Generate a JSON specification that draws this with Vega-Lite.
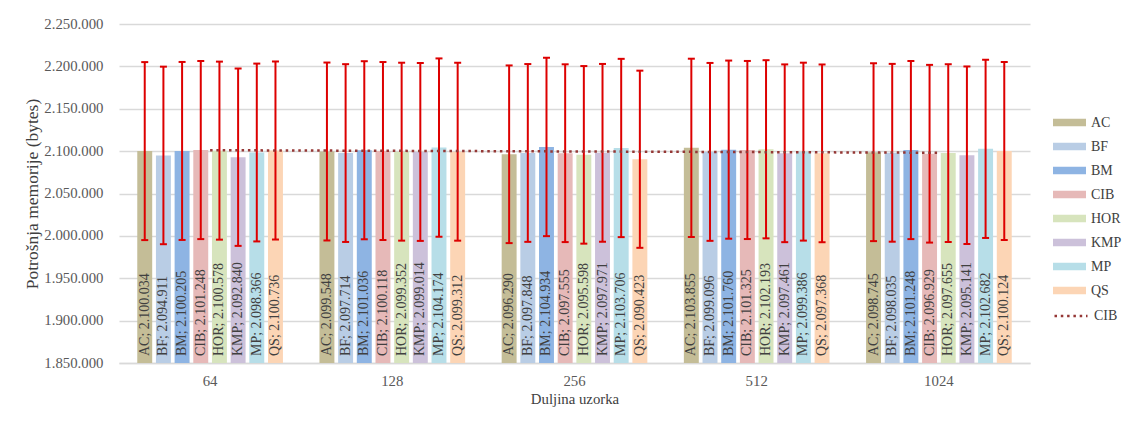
{
  "$schema": "https://vega.github.io/schema/vega-lite/v6.json",
  "width": 911,
  "height": 339,
  "autosize": "none",
  "padding": {"left": 119, "top": 24, "right": 93, "bottom": 60},
  "background": "white",
  "config": {
    "locale": {"number": {"decimal": ",", "thousands": ".", "grouping": [3], "currency": ["", ""]}},
    "font": "Liberation Serif",
    "view": {"stroke": null},
    "axis": {
      "labelFont": "Liberation Serif", "labelFontSize": 14.8, "labelColor": "#595959",
      "titleFont": "Liberation Serif", "titleFontSize": 14.8, "titleFontWeight": "normal", "titleColor": "#404040"
    },
    "axisX": {"labelAngle": 0, "ticks": false, "grid": false, "domainColor": "#d9d9d9", "domainWidth": 1.5, "labelPadding": 10, "titlePadding": 4},
    "axisY": {"domain": false, "ticks": false, "gridColor": "#d9d9d9", "gridWidth": 1.5, "labelPadding": 16, "titlePadding": 2, "titleFontSize": 17.5},
    "legend": {"labelFont": "Liberation Serif", "labelFontSize": 14, "labelColor": "#404040"}
  },
  "datasets": {
    "bars": [
      {"n": "64", "alg": "AC", "value": 2100034, "lo": 1995032, "hi": 2205036, "label": "AC; 2.100.034"},
      {"n": "64", "alg": "BF", "value": 2094911, "lo": 1990165, "hi": 2199657, "label": "BF; 2.094.911"},
      {"n": "64", "alg": "BM", "value": 2100205, "lo": 1995195, "hi": 2205215, "label": "BM; 2.100.205"},
      {"n": "64", "alg": "CIB", "value": 2101248, "lo": 1996186, "hi": 2206310, "label": "CIB; 2.101.248"},
      {"n": "64", "alg": "HOR", "value": 2100578, "lo": 1995549, "hi": 2205607, "label": "HOR; 2.100.578"},
      {"n": "64", "alg": "KMP", "value": 2092840, "lo": 1988198, "hi": 2197482, "label": "KMP; 2.092.840"},
      {"n": "64", "alg": "MP", "value": 2098366, "lo": 1993448, "hi": 2203284, "label": "MP; 2.098.366"},
      {"n": "64", "alg": "QS", "value": 2100736, "lo": 1995699, "hi": 2205773, "label": "QS; 2.100.736"},
      {"n": "128", "alg": "AC", "value": 2099548, "lo": 1994571, "hi": 2204525, "label": "AC; 2.099.548"},
      {"n": "128", "alg": "BF", "value": 2097714, "lo": 1992828, "hi": 2202600, "label": "BF; 2.097.714"},
      {"n": "128", "alg": "BM", "value": 2101036, "lo": 1995984, "hi": 2206088, "label": "BM; 2.101.036"},
      {"n": "128", "alg": "CIB", "value": 2100118, "lo": 1995112, "hi": 2205124, "label": "CIB; 2.100.118"},
      {"n": "128", "alg": "HOR", "value": 2099352, "lo": 1994384, "hi": 2204320, "label": "HOR; 2.099.352"},
      {"n": "128", "alg": "KMP", "value": 2099014, "lo": 1994063, "hi": 2203965, "label": "KMP; 2.099.014"},
      {"n": "128", "alg": "MP", "value": 2104174, "lo": 1998965, "hi": 2209383, "label": "MP; 2.104.174"},
      {"n": "128", "alg": "QS", "value": 2099312, "lo": 1994346, "hi": 2204278, "label": "QS; 2.099.312"},
      {"n": "256", "alg": "AC", "value": 2096290, "lo": 1991475, "hi": 2201105, "label": "AC; 2.096.290"},
      {"n": "256", "alg": "BF", "value": 2097848, "lo": 1992956, "hi": 2202740, "label": "BF; 2.097.848"},
      {"n": "256", "alg": "BM", "value": 2104934, "lo": 1999687, "hi": 2210181, "label": "BM; 2.104.934"},
      {"n": "256", "alg": "CIB", "value": 2097555, "lo": 1992677, "hi": 2202433, "label": "CIB; 2.097.555"},
      {"n": "256", "alg": "HOR", "value": 2095598, "lo": 1990818, "hi": 2200378, "label": "HOR; 2.095.598"},
      {"n": "256", "alg": "KMP", "value": 2097971, "lo": 1993072, "hi": 2202870, "label": "KMP; 2.097.971"},
      {"n": "256", "alg": "MP", "value": 2103706, "lo": 1998521, "hi": 2208891, "label": "MP; 2.103.706"},
      {"n": "256", "alg": "QS", "value": 2090423, "lo": 1985902, "hi": 2194944, "label": "QS; 2.090.423"},
      {"n": "512", "alg": "AC", "value": 2103855, "lo": 1998662, "hi": 2209048, "label": "AC; 2.103.855"},
      {"n": "512", "alg": "BF", "value": 2099096, "lo": 1994141, "hi": 2204051, "label": "BF; 2.099.096"},
      {"n": "512", "alg": "BM", "value": 2101760, "lo": 1996672, "hi": 2206848, "label": "BM; 2.101.760"},
      {"n": "512", "alg": "CIB", "value": 2101325, "lo": 1996259, "hi": 2206391, "label": "CIB; 2.101.325"},
      {"n": "512", "alg": "HOR", "value": 2102193, "lo": 1997083, "hi": 2207303, "label": "HOR; 2.102.193"},
      {"n": "512", "alg": "KMP", "value": 2097461, "lo": 1992588, "hi": 2202334, "label": "KMP; 2.097.461"},
      {"n": "512", "alg": "MP", "value": 2099386, "lo": 1994417, "hi": 2204355, "label": "MP; 2.099.386"},
      {"n": "512", "alg": "QS", "value": 2097368, "lo": 1992500, "hi": 2202236, "label": "QS; 2.097.368"},
      {"n": "1024", "alg": "AC", "value": 2098745, "lo": 1993808, "hi": 2203682, "label": "AC; 2.098.745"},
      {"n": "1024", "alg": "BF", "value": 2098035, "lo": 1993133, "hi": 2202937, "label": "BF; 2.098.035"},
      {"n": "1024", "alg": "BM", "value": 2101248, "lo": 1996186, "hi": 2206310, "label": "BM; 2.101.248"},
      {"n": "1024", "alg": "CIB", "value": 2096929, "lo": 1992083, "hi": 2201775, "label": "CIB; 2.096.929"},
      {"n": "1024", "alg": "HOR", "value": 2097655, "lo": 1992772, "hi": 2202538, "label": "HOR; 2.097.655"},
      {"n": "1024", "alg": "KMP", "value": 2095141, "lo": 1990384, "hi": 2199898, "label": "KMP; 2.095.141"},
      {"n": "1024", "alg": "MP", "value": 2102682, "lo": 1997548, "hi": 2207816, "label": "MP; 2.102.682"},
      {"n": "1024", "alg": "QS", "value": 2100124, "lo": 1995118, "hi": 2205130, "label": "QS; 2.100.124"}
    ],
    "trend": [
      {"n": "64", "value": 2101100},
      {"n": "128", "value": 2100350},
      {"n": "256", "value": 2099600},
      {"n": "512", "value": 2098850},
      {"n": "1024", "value": 2098100}
    ]
  },
  "layer": [
    {
      "data": {"name": "bars"},
      "mark": {"type": "bar"},
      "encoding": {
        "x": {
          "field": "n", "type": "nominal",
          "sort": ["64", "128", "256", "512", "1024"],
          "scale": {"paddingInner": 0.18, "paddingOuter": 0.09},
          "axis": {"title": "Duljina uzorka"}
        },
        "xOffset": {
          "field": "alg", "type": "nominal",
          "sort": ["AC", "BF", "BM", "CIB", "HOR", "KMP", "MP", "QS"],
          "scale": {"paddingInner": 0.2, "paddingOuter": 0.1}
        },
        "y": {
          "field": "value", "type": "quantitative",
          "scale": {"domain": [1850000, 2250000], "zero": false, "nice": false},
          "axis": {
            "title": "Potrošnja memorije (bytes)",
            "values": [1850000, 1900000, 1950000, 2000000, 2050000, 2100000, 2150000, 2200000, 2250000],
            "format": ",.0f"
          }
        },
        "y2": {"datum": 1850000},
        "fill": {
          "field": "alg", "type": "nominal",
          "scale": {
            "domain": ["AC", "BF", "BM", "CIB", "HOR", "KMP", "MP", "QS"],
            "range": ["#c4bd97", "#b9cde5", "#8eb4e3", "#e6b9b8", "#d7e4bd", "#ccc1da", "#b7dee8", "#fcd5b5"]
          },
          "legend": {
            "title": null, "orient": "none", "legendX": 934, "legendY": 82, "padding": 0,
            "symbolType": "M-1,-0.22H1V0.22H-1Z", "symbolSize": 1089, "symbolStrokeWidth": 0, "symbolOpacity": 1,
            "rowPadding": -9.3, "labelOffset": 5
          }
        }
      }
    },
    {
      "data": {"name": "bars"},
      "mark": {"type": "rule", "color": "#dd0000", "strokeWidth": 2},
      "encoding": {
        "x": {"field": "n", "type": "nominal", "sort": ["64", "128", "256", "512", "1024"]},
        "xOffset": {"field": "alg", "type": "nominal", "sort": ["AC", "BF", "BM", "CIB", "HOR", "KMP", "MP", "QS"]},
        "y": {"field": "lo", "type": "quantitative"},
        "y2": {"field": "hi"}
      }
    },
    {
      "data": {"name": "bars"},
      "mark": {"type": "tick", "color": "#dd0000", "size": 7, "thickness": 2, "opacity": 1},
      "encoding": {
        "x": {"field": "n", "type": "nominal", "sort": ["64", "128", "256", "512", "1024"]},
        "xOffset": {"field": "alg", "type": "nominal", "sort": ["AC", "BF", "BM", "CIB", "HOR", "KMP", "MP", "QS"]},
        "y": {"field": "lo", "type": "quantitative"}
      }
    },
    {
      "data": {"name": "bars"},
      "mark": {"type": "tick", "color": "#dd0000", "size": 7, "thickness": 2, "opacity": 1},
      "encoding": {
        "x": {"field": "n", "type": "nominal", "sort": ["64", "128", "256", "512", "1024"]},
        "xOffset": {"field": "alg", "type": "nominal", "sort": ["AC", "BF", "BM", "CIB", "HOR", "KMP", "MP", "QS"]},
        "y": {"field": "hi", "type": "quantitative"}
      }
    },
    {
      "data": {"name": "bars"},
      "mark": {"type": "text", "angle": 270, "align": "left", "baseline": "middle", "dx": 7, "fontSize": 14, "font": "Liberation Serif", "color": "#404040"},
      "encoding": {
        "x": {"field": "n", "type": "nominal", "sort": ["64", "128", "256", "512", "1024"]},
        "xOffset": {"field": "alg", "type": "nominal", "sort": ["AC", "BF", "BM", "CIB", "HOR", "KMP", "MP", "QS"]},
        "y": {"datum": 1850000},
        "text": {"field": "label"}
      }
    },
    {
      "data": {"name": "trend"},
      "mark": {"type": "line", "strokeWidth": 2.5, "strokeDash": [2.5, 3.8]},
      "encoding": {
        "x": {"field": "n", "type": "nominal", "sort": ["64", "128", "256", "512", "1024"]},
        "y": {"field": "value", "type": "quantitative"},
        "stroke": {
          "datum": "CIB", "type": "nominal",
          "scale": {"range": ["#953735"]},
          "legend": {
            "title": null, "orient": "none", "legendX": 934, "legendY": 274, "padding": 0,
            "symbolType": "stroke", "symbolSize": 1089, "symbolStrokeWidth": 2.5, "symbolDash": [2.5, 3.8],
            "labelOffset": 5
          }
        }
      }
    }
  ]
}
